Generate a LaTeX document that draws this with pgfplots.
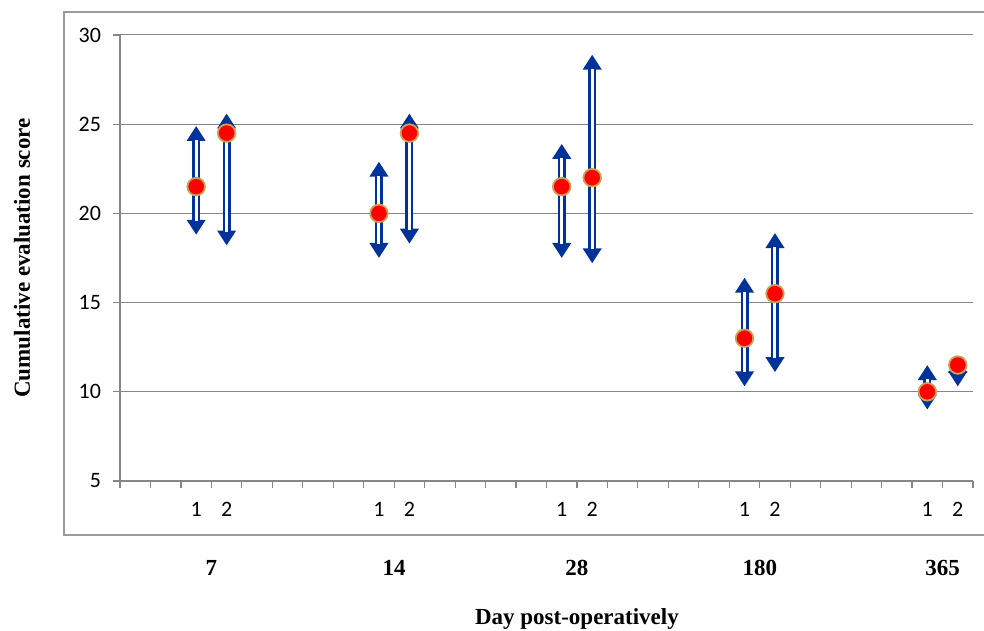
\documentclass[border=0pt]{standalone}
\usepackage{fontspec}
\setmainfont{Carlito}
\newfontfamily\labelfont{Liberation Serif}
\usepackage{pgfplots}
\usepackage{pgfplotstable}
\pgfplotsset{compat=1.18}
\usetikzlibrary{arrows.meta}

\definecolor{arrowblue}{RGB}{0,51,153}
\definecolor{axgray}{RGB}{134,134,134}
\definecolor{framegray}{RGB}{155,155,155}
\definecolor{markred}{RGB}{255,0,0}
\definecolor{markrim}{RGB}{205,160,90}

% score (marker) with the upper and lower ends of the arrows
\pgfplotstableread{
x    y    top  bot
2.5  21.5 24.9 18.8
3.5  24.5 25.6 18.2
8.5  20.0 22.9 17.5
9.5  24.5 25.6 18.3
14.5 21.5 23.9 17.5
15.5 22.0 28.9 17.2
20.5 13.0 16.4 10.3
21.5 15.5 18.9 11.1
26.5 10.0 11.5 9.0
27.5 11.5 11.9 10.3
}\scores

\tikzset{
  lbl/.style={font=\labelfont\bfseries\fontsize{11.5}{13}\selectfont},
}

\begin{document}
\begin{tikzpicture}
\useasboundingbox (-60pt,-75pt) rectangle (432pt,240.5pt);
\draw[framegray, line width=0.75pt] (445pt,234.5pt) -- (-28pt,234.5pt) -- (-28pt,-27pt) -- (445pt,-27pt);
\begin{axis}[
  at={(0,0)}, anchor=south west,
  scale only axis, width=426.5pt, height=223pt,
  xmin=0, xmax=28, ymin=5, ymax=30,
  clip=false,
  axis x line*=bottom, axis y line*=left,
  axis line style={axgray, line width=0.6pt},
  tick align=outside,
  major tick length=3.5pt, minor tick length=3.5pt,
  tick style={axgray, line width=0.6pt},
  xtick={2.5,3.5,8.5,9.5,14.5,15.5,20.5,21.5,26.5,27.5},
  xticklabels={1,2,1,2,1,2,1,2,1,2},
  minor xtick={0,1,...,28},
  major x tick style={draw=none},
  ytick={5,10,...,30},
  ymajorgrids,
  major grid style={axgray, line width=0.5pt},
  tick label style={font=\fontsize{11}{13}\selectfont},
  yticklabel style={xshift=-2.5pt},
  xticklabel style={anchor=base, yshift=-14pt},
  /pgf/number format/assume math mode=true,
]
% arrows up
\addplot[arrowblue, line width=4pt, -{Triangle[width=9pt,length=7.5pt]},
  quiver={u=0, v=\thisrow{top}-\thisrow{y}}] table[x=x, y=y] {\scores};
\addplot[white, line width=1.5pt, shorten >=7pt,
  quiver={u=0, v=\thisrow{top}-\thisrow{y}}] table[x=x, y=y] {\scores};
% arrows down
\addplot[arrowblue, line width=4pt, -{Triangle[width=9pt,length=7.5pt]},
  quiver={u=0, v=\thisrow{bot}-\thisrow{y}}] table[x=x, y=y] {\scores};
\addplot[white, line width=1.5pt, shorten >=7pt,
  quiver={u=0, v=\thisrow{bot}-\thisrow{y}}] table[x=x, y=y] {\scores};
% scores
\addplot[only marks, mark=*, mark size=4.4pt,
  mark options={fill=markred, draw=markrim, line width=0.9pt}]
  table[x=x, y=y] {\scores};

\node[lbl, anchor=base] at ([yshift=-47pt]axis cs:3,5) {7};
\node[lbl, anchor=base] at ([yshift=-47pt]axis cs:9,5) {14};
\node[lbl, anchor=base] at ([yshift=-47pt]axis cs:15,5) {28};
\node[lbl, anchor=base] at ([yshift=-47pt]axis cs:21,5) {180};
\node[lbl, anchor=base] at ([yshift=-47pt]axis cs:27,5) {365};
\node[lbl, anchor=base] at ([yshift=-71.5pt]axis cs:15,5) {Day post-operatively};
\node[lbl, rotate=90] at ([xshift=-49pt]axis cs:0,17.5) {Cumulative evaluation score};
\end{axis}
\end{tikzpicture}
\end{document}
